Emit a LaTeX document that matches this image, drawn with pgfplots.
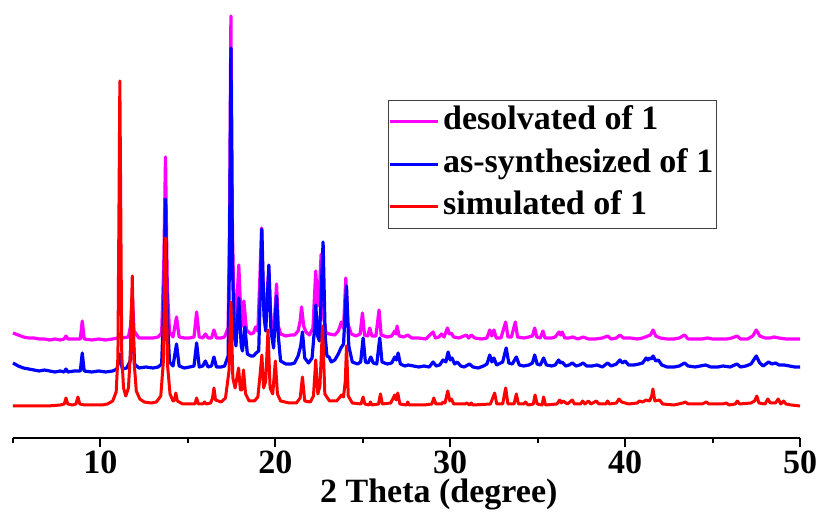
\documentclass[border=0pt]{standalone}
\usepackage{fontspec}
\setmainfont{Liberation Serif}
\usepackage{pgfplots}
\pgfplotsset{compat=1.18}
\definecolor{cmag}{RGB}{255,0,255}
\definecolor{cblue}{RGB}{0,0,255}
\definecolor{cred}{RGB}{255,0,0}
\begin{document}
\begin{tikzpicture}
\useasboundingbox (-13pt,-75pt) rectangle (808pt,438pt);
\begin{axis}[
  scale only axis, width=787pt, height=428pt,
  xmin=5, xmax=50, ymin=-32, ymax=396,
  axis x line=bottom, axis y line=none,
  axis line style={line width=2.2pt,-},
  xtick={10,20,30,40,50}, minor xtick={5,15,25,35,45}, ytick=\empty,
  tick align=outside, major tick length=9pt, minor tick length=5pt,
  every tick/.style={line width=2pt,black},
  /pgf/number format/assume math mode=true,
  ticklabel style={font=\fontsize{34}{36}\selectfont\bfseries},
  xlabel={2 Theta (degree)},
  xlabel style={font=\fontsize{34}{36}\selectfont\bfseries, at={(axis description cs:0.541,0)}, anchor=base, yshift=-65pt},
  legend style={at={(axis cs:26.43,306)}, anchor=north west, draw=black!75, line width=0.8pt,
     font=\fontsize{34}{36}\selectfont\bfseries, inner xsep=0pt, inner ysep=2.5pt, row sep=4.5pt, column sep=1pt,
     nodes={inner sep=3pt, text height=24pt, text depth=8pt}},
  legend cell align=left,
  legend image code/.code={\draw[#1, line width=3pt] (0pt,0pt) -- (48pt,0pt);},
  clip=false,
]
\addplot[cmag, line width=3.2pt, line join=round] table {
x y
5.0 73
5.3 71
5.6 69
5.9 68
6.2 68
6.5 67
6.8 67
7.1 66
7.4 67
7.7 66
7.92 67
8.03 70
8.14 67
8.5 67
8.85 67
8.96 85
9.07 67
9.5 66
9.9 67
10.3 66
10.7 67
11.0 68
11.1 72
11.2 68
11.6 69
11.72 80
11.82 112
11.92 75
12.2 68
12.6 68
13.0 68
13.3 69
13.5 73
13.62 140
13.72 249
13.82 120
13.95 74
14.15 69
14.35 89
14.5 69
14.8 68
15.1 68
15.35 69
15.5 94
15.65 69
15.85 68
16.0 72
16.15 68
16.35 68
16.49 76
16.63 68
16.9 68
17.1 69
17.3 78
17.38 180
17.46 390
17.55 170
17.65 90
17.75 85
17.91 141
18.05 82
18.12 80
18.2 105
18.35 76
18.6 72
18.75 73
18.87 79
19.0 75
19.12 130
19.21 178
19.33 100
19.45 90
19.55 120
19.63 135
19.75 85
19.9 76
20.0 100
20.07 122
20.17 80
20.3 72
20.6 70
20.9 71
21.1 71
21.3 75
21.42 85
21.5 99
21.62 80
21.75 74
21.95 71
22.15 78
22.31 135
22.42 100
22.5 110
22.62 152
22.75 90
22.9 73
23.1 72
23.4 71
23.6 75
23.78 84
23.9 78
24.03 128
24.15 82
24.35 72
24.6 70
24.85 72
24.98 93
25.1 71
25.28 70
25.4 78
25.52 70
25.75 70
25.93 96
26.05 71
26.4 69
26.65 70
26.83 75
26.9 72
26.96 80
27.08 70
27.35 69
27.57 71
27.8 68
28.2 68
28.6 67
29.02 74
29.15 68
29.35 69
29.5 72
29.65 69
29.84 78
29.95 72
30.05 73
30.2 69
30.5 68
30.92 71
31.05 68
31.2 71
31.4 68
31.8 67
32.1 68
32.26 76
32.38 70
32.5 76
32.63 68
32.9 68
33.17 84
33.3 69
33.5 69
33.72 84
33.85 69
34.2 68
34.5 69
34.7 70
34.83 78
34.95 69
35.15 68
35.3 75
35.42 68
35.8 68
36.0 69
36.22 74
36.32 71
36.4 74
36.55 68
36.8 68
37.0 69
37.3 67
37.6 69
37.9 67
38.3 67
38.7 68
39.0 70
39.2 67
39.5 68
39.7 71
39.9 68
40.3 68
40.7 67
41.0 68
41.3 70
41.45 71
41.6 76
41.75 70
42.0 68
42.4 67
42.8 67
43.1 68
43.4 71
43.6 67
44.0 67
44.4 67
44.7 68
45.0 67
45.4 67
45.8 67
46.1 68
46.4 70
46.6 67
47.0 67
47.3 70
47.5 76
47.7 70
48.0 68
48.3 68
48.5 69
48.8 68
49.2 67
49.6 67
50.0 67
};
\addlegendentry{desolvated of 1}
\addplot[cblue, line width=3.2pt, line join=round] table {
x y
5.0 43
5.3 40
5.6 38
5.9 37
6.2 36
6.5 35
6.8 36
7.1 35
7.4 34
7.7 35
7.92 34
8.03 37
8.14 34
8.5 35
8.85 35
8.96 53
9.07 35
9.5 34
9.9 35
10.3 34
10.7 35
10.95 37
11.1 52
11.25 37
11.5 38
11.7 45
11.82 99
11.95 42
12.2 38
12.6 39
13.0 38
13.3 39
13.5 42
13.62 100
13.72 207
13.82 90
13.95 44
14.15 40
14.35 62
14.5 40
14.8 38
15.1 39
15.35 40
15.5 63
15.65 39
15.85 40
16.0 45
16.15 39
16.35 40
16.49 49
16.63 39
16.9 39
17.1 40
17.3 50
17.38 150
17.46 358
17.55 140
17.65 70
17.75 60
17.91 108
18.05 60
18.12 55
18.26 79
18.4 52
18.6 50
18.75 50
18.9 53
19.05 55
19.15 120
19.23 177
19.35 90
19.45 75
19.55 110
19.63 141
19.75 75
19.9 58
20.0 90
20.07 110
20.17 70
20.3 45
20.6 42
20.9 42
21.1 43
21.3 50
21.45 60
21.55 74
21.68 48
21.9 43
22.1 48
22.23 75
22.31 101
22.42 70
22.52 65
22.73 164
22.85 70
22.95 50
23.07 49
23.2 44
23.4 46
23.6 52
23.75 58
23.9 62
24.07 120
24.2 60
24.4 44
24.7 42
24.88 44
25.02 68
25.15 44
25.3 43
25.46 49
25.6 43
25.8 42
25.97 68
26.1 44
26.4 42
26.65 43
26.83 49
26.92 46
27.02 53
27.15 42
27.4 40
27.6 41
27.9 40
28.2 39
28.5 40
28.8 39
29.02 44
29.2 40
29.4 41
29.59 46
29.75 44
29.88 54
30.0 46
30.1 48
30.25 42
30.4 44
30.6 40
30.8 39
31.1 42
31.3 39
31.6 38
31.9 40
32.1 42
32.26 51
32.38 44
32.5 48
32.65 41
33.0 44
33.2 58
33.35 43
33.55 42
33.78 49
33.95 41
34.2 40
34.5 41
34.7 43
34.83 51
34.97 42
35.15 41
35.34 48
35.5 41
35.8 40
36.0 41
36.2 46
36.3 43
36.4 44
36.6 40
36.8 41
36.98 43
37.2 40
37.4 41
37.6 43
37.8 40
38.1 40
38.4 41
38.7 39
39.0 43
39.2 40
39.5 42
39.7 46
39.85 43
40.0 45
40.2 41
40.5 41
40.8 42
41.0 43
41.2 48
41.3 46
41.4 48
41.5 47
41.6 50
41.75 45
41.9 46
42.1 41
42.4 39
42.8 39
43.1 40
43.4 43
43.6 40
44.0 39
44.3 40
44.6 41
44.9 39
45.3 39
45.6 40
46.0 39
46.4 42
46.6 39
46.9 40
47.2 42
47.5 50
47.7 43
47.9 40
48.2 44
48.4 42
48.6 43
48.8 41
49.1 41
49.4 40
49.7 39
50.0 39
};
\addlegendentry{as-synthesized of 1}
\addplot[cred, line width=3pt, line join=round] table {
x y
5.0 0
6.0 0
7.0 0
7.7 1
7.93 2
8.03 8
8.13 2
8.4 1
8.6 2
8.71 9
8.82 2
9.1 1
9.6 1
10.1 1
10.4 2
10.7 5
10.9 14
11.0 50
11.11 325
11.22 50
11.32 18
11.45 10
11.6 18
11.72 55
11.82 130
11.92 45
12.05 15
12.25 7
12.5 4
12.9 3
13.2 4
13.45 10
13.6 45
13.72 168
13.84 40
13.98 12
14.15 5
14.24 6
14.31 13
14.4 5
14.7 2
15.1 2
15.4 2
15.5 8
15.6 2
15.85 2
15.95 4
16.05 2
16.3 3
16.41 8
16.49 18
16.58 6
16.9 4
17.15 8
17.35 35
17.46 104
17.57 28
17.7 18
17.82 30
17.9 38
18.0 16
18.08 16
18.18 36
18.3 12
18.5 5
18.8 5
19.0 9
19.12 30
19.23 51
19.33 18
19.45 25
19.58 76
19.7 18
19.85 12
20.0 45
20.12 12
20.3 5
20.8 3
21.2 3
21.42 8
21.55 29
21.68 5
22.0 4
22.18 10
22.31 46
22.43 12
22.55 20
22.7 80
22.83 12
23.1 5
23.5 5
23.7 9
23.78 11
23.9 9
24.0 25
24.07 60
24.17 10
24.4 3
24.9 2
25.02 9
25.12 2
25.35 1
25.44 4
25.52 1
25.9 2
26.01 12
26.12 2
26.6 3
26.83 11
26.91 6
27.0 13
27.12 2
27.5 1
27.57 4
27.65 1
28.1 1
28.5 1
28.95 2
29.06 8
29.18 2
29.5 2
29.6 4
29.7 3
29.86 15
29.98 5
30.07 7
30.2 2
30.85 2
30.95 3
31.1 1
31.2 3
31.3 1
32.3 2
32.54 13
32.66 2
33.0 2
33.17 18
33.3 2
33.65 2
33.78 12
33.9 2
34.2 2
34.3 4
34.45 1
34.75 2
34.85 11
34.97 2
35.25 1
35.34 9
35.45 1
36.1 2
36.26 6
36.35 3
36.45 5
36.7 2
36.98 6
37.1 2
37.45 2
37.57 5
37.7 2
37.9 5
38.05 2
38.35 5
38.5 2
38.9 2
39.0 5
39.1 2
39.5 3
39.65 7
39.8 4
40.2 2
40.7 3
40.8 5
41.0 4
41.2 6
41.4 5
41.52 10
41.59 17
41.7 5
41.97 6
42.15 2
42.8 1
43.3 3
43.45 4
43.6 2
44.4 2
44.64 4
44.8 2
45.6 2
45.78 3
45.95 1
46.3 2
46.41 5
46.55 2
47.2 3
47.4 5
47.53 10
47.65 3
48.0 2
48.16 7
48.3 3
48.6 3
48.75 7
48.9 2
49.06 5
49.2 2
49.5 1
50.0 0
};
\addlegendentry{simulated of 1}
\end{axis}
\end{tikzpicture}
\end{document}
